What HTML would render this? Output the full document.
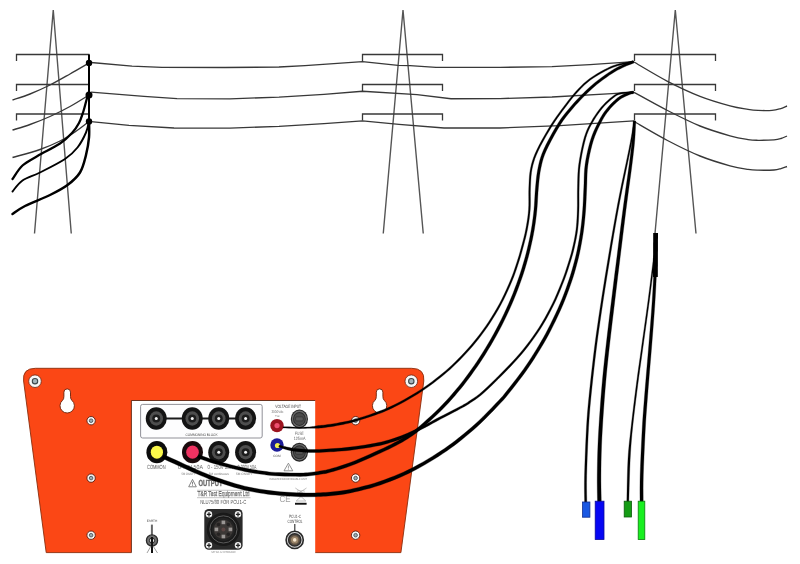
<!DOCTYPE html>
<html lang="en">
<head>
<meta charset="utf-8">
<title>NLU75/80 connection diagram</title>
<style>
html,body{margin:0;padding:0;background:#fff;}
body{width:800px;height:564px;overflow:hidden;}
svg{display:block;}
svg text{font-family:"Liberation Sans",sans-serif;text-rendering:geometricPrecision;}
</style>
</head>
<body>
<svg width="800" height="564" viewBox="0 0 800 564">
<rect x="0" y="0" width="800" height="564" fill="#ffffff"/>
<g fill="none" stroke="#383838" stroke-width="1.3" stroke-linejoin="miter">
<path stroke="#555" stroke-width="1.4" shape-rendering="auto" d="M34.50 233.50 L53.25 10.00 L71.25 233.50" />
<path d="M16.50 61.00 L16.50 54.50 L89.50 54.50" />
<path d="M16.50 91.00 L16.50 84.50 L89.50 84.50" />
<path d="M16.50 120.50 L16.50 114.00 L89.50 114.00" />
<path stroke="#555" stroke-width="1.4" shape-rendering="auto" d="M383.25 233.50 L403.00 10.00 L423.25 233.50" />
<path d="M362.50 61.00 L362.50 54.50 L442.50 54.50 L442.50 61.00" />
<path d="M362.50 91.00 L362.50 84.50 L442.50 84.50 L442.50 91.00" />
<path d="M362.50 120.50 L362.50 114.00 L442.50 114.00 L442.50 120.50" />
<path stroke="#555" stroke-width="1.4" shape-rendering="auto" d="M655.00 233.50 L675.30 10.00 L696.00 233.50" />
<path d="M634.50 61.00 L634.50 54.50 L715.50 54.50 L715.50 61.00" />
<path d="M634.50 91.00 L634.50 84.50 L715.50 84.50 L715.50 91.00" />
<path d="M634.50 120.50 L634.50 114.00 L715.50 114.00 L715.50 120.50" />
</g>
<g fill="none" stroke="#383838" stroke-width="1.35">
<path d="M91.00 62.50 L132.00 66.10 L162.00 67.30 L225.00 67.50 L279.00 67.00 L305.00 65.60 L362.50 61.60 L398.00 65.40 L410.00 65.70 L436.00 67.30 L500.00 67.40 L552.00 66.60 L590.00 64.60 L634.00 61.60" />
<path d="M91.00 92.20 L144.00 96.30 L177.00 98.70 L230.00 98.90 L279.00 97.10 L324.00 94.30 L362.50 91.30 L417.00 94.60 L451.00 98.70 L500.00 98.60 L552.00 97.00 L612.00 93.70 L634.00 92.20" />
<path d="M91.00 121.60 L129.00 125.40 L174.00 128.00 L230.00 128.10 L279.00 126.30 L324.00 123.60 L362.50 120.90 L399.00 124.40 L444.00 128.00 L500.00 128.00 L560.00 125.60 L634.00 120.80" />
<path d="M634.00 62.00 C639.58 65.22 656.50 75.58 667.50 81.30 C678.50 87.02 689.58 92.22 700.00 96.30 C710.42 100.38 722.00 103.63 730.00 105.80 C738.00 107.97 743.33 108.53 748.00 109.30 C752.67 110.07 754.00 110.22 758.00 110.40 C762.00 110.58 768.33 110.67 772.00 110.40 C775.67 110.13 777.50 109.53 780.00 108.80 C782.50 108.07 785.83 106.47 787.00 106.00" />
<path d="M634.00 92.30 C639.58 95.33 656.50 104.88 667.50 110.50 C678.50 116.12 689.58 121.78 700.00 126.00 C710.42 130.22 722.00 133.53 730.00 135.80 C738.00 138.07 743.33 138.85 748.00 139.60 C752.67 140.35 753.67 140.27 758.00 140.30 C762.33 140.33 770.17 140.10 774.00 139.80 C777.83 139.50 778.83 139.13 781.00 138.50 C783.17 137.87 786.00 136.42 787.00 136.00" />
<path d="M634.00 121.50 C639.58 124.67 656.50 134.75 667.50 140.50 C678.50 146.25 689.58 151.78 700.00 156.00 C710.42 160.22 722.00 163.57 730.00 165.80 C738.00 168.03 743.33 168.67 748.00 169.40 C752.67 170.13 753.67 170.10 758.00 170.20 C762.33 170.30 770.17 170.27 774.00 170.00 C777.83 169.73 778.83 169.18 781.00 168.60 C783.17 168.02 786.00 166.85 787.00 166.50" />
<path d="M89.00 63.00 C85.83 64.83 76.50 70.33 70.00 74.00 C63.50 77.67 56.67 81.67 50.00 85.00 C43.33 88.33 36.25 91.50 30.00 94.00 C23.75 96.50 15.42 99.00 12.50 100.00" />
<path d="M89.00 95.00 C85.83 96.92 76.50 102.92 70.00 106.50 C63.50 110.08 56.67 113.50 50.00 116.50 C43.33 119.50 36.25 122.25 30.00 124.50 C23.75 126.75 15.42 129.08 12.50 130.00" />
<path d="M89.00 121.50 C86.67 123.25 79.83 128.75 75.00 132.00 C70.17 135.25 65.83 138.08 60.00 141.00 C54.17 143.92 47.92 146.75 40.00 149.50 C32.08 152.25 17.08 156.17 12.50 157.50" />
</g>
<g fill="none" stroke="#000" stroke-linecap="round" stroke-linejoin="round">
<path stroke-width="2" stroke-linecap="butt" d="M89 54.5 L89 122" />
<path stroke-width="2.3" d="M89.00 92.00 C88.58 93.33 87.47 96.67 86.50 100.00 C85.53 103.33 84.45 108.17 83.20 112.00 C81.95 115.83 80.87 119.50 79.00 123.00 C77.13 126.50 75.17 129.58 72.00 133.00 C68.83 136.42 65.75 139.67 60.00 143.50 C54.25 147.33 43.75 152.33 37.50 156.00 C31.25 159.67 26.67 161.67 22.50 165.50 C18.33 169.33 14.17 176.75 12.50 179.00" />
<path stroke-width="1.9" d="M89.00 121.00 C88.50 122.92 87.92 128.08 86.00 132.50 C84.08 136.92 81.00 143.08 77.50 147.50 C74.00 151.92 71.25 154.83 65.00 159.00 C58.75 163.17 47.08 168.92 40.00 172.50 C32.92 176.08 27.08 177.33 22.50 180.50 C17.92 183.67 14.17 189.67 12.50 191.50" />
<path stroke-width="2.5" d="M89.00 121.00 C89.00 123.75 89.50 131.83 89.00 137.50 C88.50 143.17 87.50 149.17 86.00 155.00 C84.50 160.83 83.08 167.50 80.00 172.50 C76.92 177.50 72.50 181.25 67.50 185.00 C62.50 188.75 57.08 191.50 50.00 195.00 C42.92 198.50 31.25 202.83 25.00 206.00 C18.75 209.17 14.58 212.67 12.50 214.00" />
</g>
<g fill="#000"><circle cx="89" cy="63" r="3.2"/><circle cx="89" cy="95" r="3.5"/><circle cx="89" cy="121.5" r="3.2"/></g>
<!-- equipment: orange back plate -->
<g id="plate" filter="url(#soft)">
<path d="M46.2 552.6 L23.6 381 Q22.2 368.3 35.5 368.3 L411.5 368.3 Q425 368.3 423.8 381 L400.9 552.6 Z" fill="#fb4715" stroke="#8a2c0c" stroke-width="0.9"/>
<!-- corner screws -->
<g>
<circle cx="35" cy="381.2" r="6.3" fill="#f7f7f7" stroke="#6a2410" stroke-width="0.8"/>
<circle cx="35" cy="381.2" r="2.7" fill="#a4b4ba" stroke="#3c484c" stroke-width="1.1"/>
<circle cx="411.3" cy="381.2" r="6.3" fill="#f7f7f7" stroke="#6a2410" stroke-width="0.8"/>
<circle cx="411.3" cy="381.2" r="2.7" fill="#a4b4ba" stroke="#3c484c" stroke-width="1.1"/>
</g>
<!-- keyholes -->
<g fill="#fff" stroke="#6a2008" stroke-width="0.9">
<path d="M63.90 396.50 L63.90 392.20 A3.30 3.30 0 0 1 70.50 392.20 L70.50 396.50 Q70.50 399.08 71.83 400.28 A7.20 7.20 0 1 1 62.57 400.28 Q63.90 399.08 63.90 396.50 Z"/>
<path d="M376.30 396.50 L376.30 392.20 A3.30 3.30 0 0 1 382.90 392.20 L382.90 396.50 Q382.90 399.08 384.23 400.28 A7.20 7.20 0 1 1 374.97 400.28 Q376.30 399.08 376.30 396.50 Z"/>
</g>
<!-- small screws -->
<g fill="#f6f6f6" stroke="#5a1c0c" stroke-width="0.9">
<circle cx="91.1" cy="420.7" r="4.2"/>
<circle cx="91.1" cy="478.1" r="4.2"/>
<circle cx="91.1" cy="535.2" r="4.2"/>
<circle cx="355.6" cy="420.7" r="4.2"/>
<circle cx="355.6" cy="478.1" r="4.2"/>
<circle cx="355.6" cy="535.2" r="4.2"/>
</g>
<g fill="#9aaab2" stroke="#3c484c" stroke-width="0.8">
<circle cx="91.1" cy="420.7" r="1.8"/>
<circle cx="91.1" cy="478.1" r="1.8"/>
<circle cx="91.1" cy="535.2" r="1.8"/>
<circle cx="355.6" cy="420.7" r="1.8"/>
<circle cx="355.6" cy="478.1" r="1.8"/>
<circle cx="355.6" cy="535.2" r="1.8"/>
</g>
</g>
<!-- white front panel -->
<defs><filter id="soft" x="-5%" y="-5%" width="110%" height="110%" color-interpolation-filters="sRGB"><feGaussianBlur stdDeviation="0.35"/></filter></defs>
<g id="panel" filter="url(#soft)">
<rect x="131.5" y="400.6" width="183.7" height="153.4" fill="#ffffff"/>
<path d="M131.4 552.6 L131.4 400.5 L315.2 400.5" fill="none" stroke="#5c2814" stroke-width="0.9"/>
<!-- commoning block -->
<rect x="140.6" y="404.4" width="121.6" height="33.6" rx="2" fill="#fdfdfe" stroke="#84848c" stroke-width="0.9"/>
<path d="M156 418.5 L246 418.5" stroke="#1a1a1a" stroke-width="1.8"/>
<g id="sockets">
<g transform="translate(156.25 418.5)"><ellipse rx="10.5" ry="11.3" fill="#141414"/><ellipse rx="6.8" ry="7.2" fill="#4e4e4e"/><circle r="4" fill="#1c1c1c"/><circle r="1.5" fill="#f4f4f4"/></g>
<g transform="translate(192.25 418.5)"><ellipse rx="10.5" ry="11.3" fill="#141414"/><ellipse rx="6.8" ry="7.2" fill="#4e4e4e"/><circle r="4" fill="#1c1c1c"/><circle r="1.5" fill="#f4f4f4"/></g>
<g transform="translate(218.75 418.5)"><ellipse rx="10.5" ry="11.3" fill="#141414"/><ellipse rx="6.8" ry="7.2" fill="#4e4e4e"/><circle r="4" fill="#1c1c1c"/><circle r="1.5" fill="#f4f4f4"/></g>
<g transform="translate(245.6 418.5)"><ellipse rx="10.5" ry="11.3" fill="#141414"/><ellipse rx="6.8" ry="7.2" fill="#4e4e4e"/><circle r="4" fill="#1c1c1c"/><circle r="1.5" fill="#f4f4f4"/></g>
<g transform="translate(218.75 452.2)"><ellipse rx="10.5" ry="11.3" fill="#141414"/><ellipse rx="6.8" ry="7.2" fill="#4e4e4e"/><circle r="4" fill="#1c1c1c"/><circle r="1.5" fill="#f4f4f4"/></g>
<g transform="translate(245.6 452.2)"><ellipse rx="10.5" ry="11.3" fill="#141414"/><ellipse rx="6.8" ry="7.2" fill="#4e4e4e"/><circle r="4" fill="#1c1c1c"/><circle r="1.5" fill="#f4f4f4"/></g>
<g transform="translate(156.9 452.2)"><ellipse rx="10.5" ry="11.1" fill="#0c0c0c"/><ellipse rx="6.1" ry="6.5" fill="#fbf84a"/></g>
<g transform="translate(192.5 452.2)"><ellipse rx="10.5" ry="11.1" fill="#1a0a0c"/><ellipse rx="6.3" ry="6.6" fill="#f23262"/></g>
</g>
<text x="201.5" y="435.6" font-size="3.5" text-anchor="middle" fill="#444" textLength="32" lengthAdjust="spacingAndGlyphs">COMMONING BLOCK</text>
<text x="156.3" y="469.4" font-size="6" text-anchor="middle" fill="#555" textLength="18.6" lengthAdjust="spacingAndGlyphs">COMMON</text>
<text x="190.5" y="469.4" font-size="6" text-anchor="middle" fill="#666" textLength="25" lengthAdjust="spacingAndGlyphs">0-75V 50A</text>
<text x="220" y="469.4" font-size="6" text-anchor="middle" fill="#666" textLength="25" lengthAdjust="spacingAndGlyphs">0 - 150V 25A</text>
<text x="247" y="469.4" font-size="6" text-anchor="middle" fill="#666" textLength="19" lengthAdjust="spacingAndGlyphs">0-300V 50A</text>
<text x="188.5" y="474.5" font-size="3.4" text-anchor="middle" fill="#777" textLength="14" lengthAdjust="spacingAndGlyphs">5M ON/OFF</text>
<text x="218.8" y="474.5" font-size="3.4" text-anchor="middle" fill="#777" textLength="20" lengthAdjust="spacingAndGlyphs">5M continuous</text>
<text x="244.5" y="474.5" font-size="3.4" text-anchor="middle" fill="#777" textLength="17" lengthAdjust="spacingAndGlyphs">5M ON/OFF</text>
<!-- output heading -->
<path d="M192.5 479.4 L188.7 486.8 L196.3 486.8 Z" fill="none" stroke="#777" stroke-width="0.9"/>
<path d="M192.5 481.8 L192.5 484.6 M192.5 485.3 L192.5 486" stroke="#666" stroke-width="0.8"/>
<text x="210.5" y="486.4" font-size="8.8" font-weight="bold" text-anchor="middle" fill="#6c6c6c" stroke="#6c6c6c" stroke-width="0.35" textLength="24" lengthAdjust="spacingAndGlyphs">OUTPUT</text>
<text x="223.5" y="496.4" font-size="7" text-anchor="middle" fill="#e8e8e8" stroke="#6a6a6a" stroke-width="0.4" textLength="52" lengthAdjust="spacingAndGlyphs">T&amp;R Test Equipment Ltd</text>
<path d="M197 490.3 L250.5 490.3 M197 497.7 L250.5 497.7" stroke="#888" stroke-width="0.5"/>
<text x="223.2" y="503.8" font-size="6" text-anchor="middle" fill="#555" textLength="46" lengthAdjust="spacingAndGlyphs">NLU75/80 FOR PCU1-C</text>
<!-- earth -->
<text x="152" y="522" font-size="3.2" text-anchor="middle" fill="#444">EARTH</text>
<path d="M151.9 524.6 L151.9 535" stroke="#666" stroke-width="2"/>
<circle cx="152" cy="540.5" r="5.6" fill="#707070" stroke="#2a2a2a" stroke-width="1.3"/>
<circle cx="152" cy="540.5" r="2.6" fill="#e8e8e8" stroke="#222" stroke-width="1"/>
<path d="M152 537 L152 553" stroke="#111" stroke-width="2"/>
<path d="M151 546 L147 553 M153 546 L157.5 553" stroke="#777" stroke-width="0.7"/>
<!-- multi-pin connector -->
<g>
<rect x="204.3" y="509" width="38.3" height="40.8" rx="4.5" fill="#2a2a2a"/>
<circle cx="223.4" cy="529.4" r="16.6" fill="#191919"/>
<circle cx="223.4" cy="529.4" r="13.6" fill="none" stroke="#5a5a5a" stroke-width="1"/>
<circle cx="223.4" cy="529.4" r="11.6" fill="#232323"/>
<circle cx="223.4" cy="529.4" r="9.6" fill="#3c3836"/>
<g fill="#242222"><circle cx="218.5" cy="524.5" r="1.8"/><circle cx="228.3" cy="524.5" r="1.8"/><circle cx="218.5" cy="534.3" r="1.8"/><circle cx="228.3" cy="534.3" r="1.8"/></g>
<g fill="#9a9694"><rect x="221.6" y="520.6" width="3.6" height="3.6"/><rect x="221.6" y="534.7" width="3.6" height="3.6"/><rect x="214.6" y="527.6" width="3.6" height="3.6"/><rect x="228.6" y="527.6" width="3.6" height="3.6"/></g>
<circle cx="223.4" cy="529.4" r="2" fill="#5c4644"/>
<g fill="#f0f0f0">
<circle cx="209" cy="514.3" r="3.2"/><circle cx="238" cy="514.3" r="3.2"/><circle cx="209" cy="545.3" r="3.2"/><circle cx="238" cy="545.3" r="3.2"/>
</g>
<g stroke="#222" stroke-width="1.3" fill="none"><path d="M206.9 514.3 h4.2 M209 512.2 v4.2 M235.9 514.3 h4.2 M238 512.2 v4.2 M206.9 545.3 h4.2 M209 543.2 v4.2 M235.9 545.3 h4.2 M238 543.2 v4.2"/></g>
</g>
<text x="223.6" y="553.2" font-size="2.8" text-anchor="middle" fill="#777" textLength="24.5" lengthAdjust="spacingAndGlyphs">SKT A/1-12 INTERLOCK</text>
<!-- voltage input -->
<text x="288.2" y="407.8" font-size="4.6" text-anchor="middle" fill="#444" textLength="25.8" lengthAdjust="spacingAndGlyphs">VOLTAGE INPUT</text>
<text x="277.5" y="412.8" font-size="3.8" text-anchor="middle" fill="#777" textLength="12.2" lengthAdjust="spacingAndGlyphs">3000Vdc</text>
<text x="277.3" y="417.2" font-size="3.4" text-anchor="middle" fill="#777" textLength="5" lengthAdjust="spacingAndGlyphs">+ve</text>
<circle cx="277" cy="425.6" r="6.7" fill="#9c1420"/>
<circle cx="277" cy="425.6" r="2.6" fill="#ee5070"/>
<g transform="translate(299.4 418.9)"><ellipse rx="8.6" ry="9.5" fill="#262626"/><ellipse rx="7.5" ry="8.3" fill="#6c6c6c"/><ellipse rx="6.4" ry="7" fill="#2c2c2c"/><ellipse rx="5.5" ry="6" fill="#4a4a4a"/><rect x="-3.8" y="-2" width="7.6" height="4" rx="1" fill="#585858" stroke="#2c2c2c" stroke-width="0.6"/></g>
<text x="299.4" y="434.8" font-size="4.6" text-anchor="middle" fill="#666" textLength="8.8" lengthAdjust="spacingAndGlyphs">FUSE</text>
<text x="299.6" y="440.1" font-size="4.6" text-anchor="middle" fill="#666" textLength="11.8" lengthAdjust="spacingAndGlyphs">125mA</text>
<circle cx="277" cy="445" r="6.7" fill="#1c1c98"/>
<circle cx="277.5" cy="445.5" r="2.6" fill="#f2ee50"/>
<text x="277" y="457.3" font-size="3.2" text-anchor="middle" fill="#555">COM</text>
<g transform="translate(299.4 452.2)"><ellipse rx="8.6" ry="9.5" fill="#262626"/><ellipse rx="7.5" ry="8.3" fill="#6c6c6c"/><ellipse rx="6.4" ry="7" fill="#2c2c2c"/><ellipse rx="5.5" ry="6" fill="#4a4a4a"/><rect x="-3.8" y="-2" width="7.6" height="4" rx="1" fill="#585858" stroke="#2c2c2c" stroke-width="0.6"/></g>
<!-- warning -->
<path d="M288.4 463.2 L284 470.8 L292.8 470.8 Z" fill="none" stroke="#777" stroke-width="0.8"/>
<path d="M288.4 465.6 L288.4 468.6 M288.4 469.3 L288.4 470" stroke="#777" stroke-width="0.7"/>
<text x="288.2" y="479.6" font-size="2.9" text-anchor="middle" fill="#777" textLength="37.5" lengthAdjust="spacingAndGlyphs">ISOLATED RECOVERABLE UNIT</text>
<!-- CE + WEEE -->
<text x="285" y="501.6" font-size="9" text-anchor="middle" fill="#a0a0a0" textLength="11" lengthAdjust="spacingAndGlyphs">CE</text>
<path d="M295.3 488 L306.5 495.5 M306.5 488 L295.3 495.5" stroke="#999" stroke-width="0.6"/>
<path d="M297.6 490.6 L304.2 490.6 L303.6 495 L298.2 495 Z" fill="none" stroke="#aaa" stroke-width="0.5"/>
<path d="M296.2 501 L301 496.5 L305.8 501 Z" fill="none" stroke="#999" stroke-width="0.6"/>
<rect x="295" y="502.8" width="11.6" height="1.9" fill="#111"/>
<!-- PCU1-C control -->
<text x="295" y="517.8" font-size="4.7" text-anchor="middle" fill="#4a4a4a" textLength="12.2" lengthAdjust="spacingAndGlyphs">PCU1-C</text>
<text x="295" y="522.9" font-size="4.7" text-anchor="middle" fill="#4a4a4a" textLength="15.2" lengthAdjust="spacingAndGlyphs">CONTROL</text>
<path d="M294.8 524 L294.8 531" stroke="#2a2a2a" stroke-width="1.1"/>
<circle cx="294.7" cy="539.9" r="8.6" fill="#d8d8d8" stroke="#2a2a2a" stroke-width="1.6"/>
<circle cx="294.7" cy="539.9" r="6.1" fill="#5c5044" stroke="#2c2c2c" stroke-width="1.5"/>
<circle cx="294.7" cy="539.9" r="3.7" fill="#9a8468"/>
<circle cx="294.7" cy="539.9" r="1.8" fill="#f4e4cc"/>
</g>


<g fill="#000" stroke="#000" stroke-width="0.3" stroke-linejoin="round">
<path d="M282.98 427.95 L285.41 428.04 L288.91 428.16 L292.92 428.30 L296.86 428.42 L300.20 428.48 L302.90 428.46 L305.33 428.39 L307.52 428.30 L309.50 428.21 L311.30 428.16 L312.80 428.17 L314.00 428.21 L315.05 428.27 L316.13 428.29 L317.38 428.27 L318.74 428.19 L320.11 428.09 L321.61 427.95 L323.35 427.75 L325.44 427.47 L327.98 427.10 L330.91 426.65 L334.06 426.13 L337.27 425.57 L340.37 424.98 L343.20 424.41 L345.89 423.86 L348.66 423.23 L351.76 422.44 L355.41 421.41 L359.84 420.06 L364.90 418.46 L370.24 416.71 L375.50 414.89 L380.32 413.10 L384.60 411.38 L388.58 409.67 L392.41 407.91 L396.23 406.04 L400.21 404.00 L404.39 401.75 L408.68 399.35 L412.99 396.82 L417.25 394.22 L421.38 391.58 L425.39 388.87 L429.35 386.07 L433.21 383.23 L436.94 380.37 L440.52 377.55 L443.88 374.80 L447.05 372.10 L450.11 369.39 L453.16 366.57 L456.27 363.57 L459.49 360.39 L462.74 357.07 L465.99 353.62 L469.21 350.08 L472.36 346.45 L475.45 342.75 L478.50 338.96 L481.50 335.07 L484.45 331.07 L487.35 326.95 L490.21 322.68 L493.05 318.29 L495.82 313.78 L498.50 309.20 L501.07 304.56 L503.55 299.76 L505.96 294.78 L508.26 289.80 L510.38 284.98 L512.28 280.51 L513.92 276.41 L515.33 272.55 L516.57 268.92 L517.69 265.47 L518.76 262.17 L519.73 259.15 L520.57 256.42 L521.34 253.80 L522.10 251.07 L522.92 248.05 L523.82 244.69 L524.77 241.11 L525.73 237.38 L526.63 233.55 L527.43 229.70 L528.15 225.83 L528.81 221.90 L529.39 217.89 L529.88 213.82 L530.26 209.67 L530.45 205.38 L530.48 200.98 L530.44 196.56 L530.42 192.22 L530.51 188.04 L530.68 184.01 L530.86 180.08 L531.12 176.25 L531.52 172.50 L532.15 168.80 L532.94 165.26 L533.86 161.93 L534.97 158.58 L536.37 155.01 L538.15 151.01 L540.45 146.36 L543.22 141.19 L546.24 135.84 L549.28 130.66 L552.13 125.99 L554.75 121.89 L557.31 118.15 L559.83 114.65 L562.32 111.29 L564.82 107.96 L567.28 104.68 L569.69 101.51 L572.09 98.45 L574.52 95.51 L577.03 92.67 L579.57 89.94 L582.11 87.33 L584.71 84.82 L587.46 82.41 L590.42 80.08 L593.76 77.76 L597.44 75.45 L601.23 73.26 L604.87 71.27 L608.13 69.59 L610.89 68.29 L613.32 67.30 L615.58 66.52 L617.84 65.84 L620.26 65.17 L623.06 64.50 L626.15 63.88 L629.17 63.35 L631.79 62.91 L633.64 62.59 L633.36 61.01 L631.52 61.33 L628.90 61.77 L625.85 62.30 L622.72 62.92 L619.86 63.61 L617.39 64.29 L615.08 64.98 L612.74 65.78 L610.24 66.80 L607.41 68.13 L604.11 69.83 L600.43 71.83 L596.60 74.05 L592.86 76.39 L589.44 78.76 L586.41 81.15 L583.60 83.61 L580.94 86.15 L578.37 88.80 L575.81 91.55 L573.26 94.43 L570.80 97.41 L568.37 100.49 L565.95 103.67 L563.48 106.96 L560.98 110.29 L558.47 113.66 L555.93 117.19 L553.35 120.97 L550.69 125.09 L547.83 129.79 L544.78 135.00 L541.74 140.37 L538.94 145.58 L536.61 150.29 L534.80 154.35 L533.37 158.00 L532.22 161.43 L531.28 164.85 L530.47 168.46 L529.82 172.26 L529.40 176.10 L529.14 179.98 L528.96 183.93 L528.79 187.98 L528.68 192.21 L528.70 196.58 L528.74 200.99 L528.71 205.34 L528.52 209.55 L528.15 213.64 L527.66 217.66 L527.08 221.62 L526.42 225.52 L525.71 229.36 L524.91 233.17 L524.01 236.95 L523.06 240.66 L522.11 244.23 L521.20 247.59 L520.39 250.60 L519.63 253.31 L518.87 255.91 L518.03 258.61 L517.06 261.63 L515.99 264.92 L514.87 268.35 L513.64 271.95 L512.24 275.76 L510.62 279.83 L508.73 284.27 L506.61 289.05 L504.32 294.00 L501.92 298.94 L499.45 303.70 L496.90 308.29 L494.24 312.83 L491.48 317.30 L488.66 321.66 L485.81 325.89 L482.93 329.98 L480.00 333.94 L477.02 337.79 L473.99 341.54 L470.92 345.21 L467.78 348.81 L464.59 352.32 L461.35 355.73 L458.12 359.03 L454.93 362.19 L451.83 365.15 L448.80 367.94 L445.77 370.63 L442.62 373.29 L439.28 376.01 L435.73 378.81 L432.02 381.65 L428.19 384.47 L424.26 387.23 L420.28 389.90 L416.19 392.51 L411.95 395.08 L407.67 397.58 L403.41 399.95 L399.25 402.16 L395.30 404.18 L391.51 406.02 L387.73 407.74 L383.80 409.42 L379.56 411.10 L374.78 412.87 L369.55 414.67 L364.24 416.40 L359.20 417.98 L354.79 419.29 L351.19 420.29 L348.15 421.02 L345.42 421.59 L342.75 422.10 L339.93 422.62 L336.85 423.17 L333.66 423.67 L330.53 424.13 L327.61 424.54 L325.08 424.89 L323.03 425.16 L321.34 425.34 L319.87 425.48 L318.52 425.61 L317.16 425.77 L315.92 425.98 L314.88 426.19 L313.87 426.40 L312.71 426.60 L311.22 426.76 L309.44 426.90 L307.46 427.02 L305.29 427.11 L302.88 427.17 L300.20 427.18 L296.89 427.13 L292.96 427.01 L288.96 426.87 L285.46 426.74 L283.02 426.65 Z" />
<path d="M278.70 446.95 L279.67 447.31 L281.03 447.81 L282.64 448.40 L284.37 448.98 L286.06 449.49 L287.58 449.91 L289.04 450.31 L290.64 450.68 L292.54 451.02 L294.89 451.34 L297.83 451.65 L301.24 451.95 L304.94 452.21 L308.72 452.41 L312.38 452.52 L315.87 452.52 L319.33 452.44 L322.80 452.28 L326.34 452.09 L330.03 451.86 L333.82 451.63 L337.69 451.37 L341.70 451.07 L345.88 450.69 L350.30 450.20 L355.17 449.57 L360.46 448.82 L365.82 448.00 L370.91 447.17 L375.36 446.37 L379.02 445.64 L382.12 444.93 L384.90 444.21 L387.59 443.44 L390.41 442.60 L393.36 441.70 L396.27 440.75 L399.20 439.74 L402.19 438.62 L405.28 437.36 L408.44 435.97 L411.66 434.45 L414.94 432.82 L418.30 431.11 L421.78 429.32 L425.40 427.41 L429.14 425.39 L432.96 423.30 L436.83 421.19 L440.71 419.10 L444.78 416.95 L449.08 414.71 L453.34 412.49 L457.28 410.42 L460.64 408.62 L463.18 407.22 L465.09 406.16 L466.73 405.21 L468.41 404.15 L470.45 402.78 L472.77 401.23 L475.18 399.63 L477.80 397.77 L480.77 395.48 L484.18 392.56 L488.29 388.77 L493.00 384.26 L497.96 379.37 L502.82 374.48 L507.22 369.96 L511.10 365.90 L514.71 362.04 L518.13 358.26 L521.45 354.42 L524.78 350.39 L528.12 346.15 L531.42 341.81 L534.65 337.36 L537.78 332.83 L540.79 328.22 L543.68 323.49 L546.48 318.64 L549.17 313.74 L551.72 308.84 L554.13 304.01 L556.41 299.17 L558.55 294.29 L560.56 289.48 L562.41 284.85 L564.10 280.52 L565.61 276.51 L566.93 272.74 L568.12 269.18 L569.20 265.79 L570.22 262.54 L571.16 259.54 L571.98 256.82 L572.73 254.18 L573.45 251.44 L574.18 248.42 L574.94 245.08 L575.71 241.54 L576.45 237.86 L577.11 234.07 L577.67 230.23 L578.09 226.36 L578.41 222.41 L578.65 218.40 L578.84 214.30 L579.00 210.12 L579.09 205.81 L579.09 201.41 L579.07 196.94 L579.07 192.42 L579.15 187.89 L579.25 183.36 L579.35 178.83 L579.51 174.25 L579.81 169.56 L580.34 164.70 L581.14 159.42 L582.16 153.76 L583.32 148.08 L584.57 142.72 L585.82 138.05 L587.05 134.21 L588.32 130.96 L589.66 128.08 L591.10 125.32 L592.67 122.46 L594.41 119.48 L596.27 116.54 L598.24 113.68 L600.25 110.95 L602.28 108.41 L604.39 106.03 L606.60 103.76 L608.82 101.66 L610.96 99.79 L612.90 98.20 L614.50 96.95 L615.80 96.03 L617.01 95.34 L618.37 94.79 L620.13 94.28 L622.61 93.85 L625.66 93.55 L628.82 93.35 L631.61 93.22 L633.55 93.10 L633.45 91.50 L631.52 91.62 L628.73 91.75 L625.53 91.95 L622.40 92.25 L619.79 92.70 L617.85 93.25 L616.30 93.88 L614.92 94.66 L613.52 95.65 L611.88 96.92 L609.90 98.54 L607.72 100.45 L605.45 102.59 L603.18 104.91 L601.02 107.35 L598.94 109.94 L596.89 112.71 L594.89 115.63 L592.99 118.62 L591.23 121.64 L589.63 124.53 L588.16 127.34 L586.78 130.31 L585.47 133.65 L584.20 137.57 L582.93 142.31 L581.67 147.72 L580.49 153.44 L579.47 159.14 L578.66 164.48 L578.12 169.41 L577.80 174.16 L577.64 178.78 L577.54 183.32 L577.43 187.85 L577.35 192.41 L577.34 196.94 L577.36 201.41 L577.36 205.79 L577.26 210.06 L577.11 214.23 L576.92 218.31 L576.67 222.29 L576.35 226.19 L575.93 230.01 L575.38 233.79 L574.72 237.53 L573.99 241.18 L573.22 244.70 L572.46 248.02 L571.74 251.01 L571.02 253.71 L570.28 256.31 L569.46 259.01 L568.52 262.00 L567.50 265.25 L566.42 268.62 L565.24 272.16 L563.92 275.89 L562.42 279.88 L560.73 284.19 L558.88 288.79 L556.88 293.57 L554.75 298.42 L552.49 303.21 L550.09 308.00 L547.54 312.87 L544.87 317.73 L542.09 322.54 L539.21 327.22 L536.23 331.78 L533.12 336.28 L529.91 340.68 L526.63 344.99 L523.30 349.19 L519.99 353.19 L516.69 356.99 L513.29 360.74 L509.70 364.56 L505.82 368.60 L501.42 373.10 L496.57 377.97 L491.62 382.84 L486.93 387.32 L482.86 391.06 L479.50 393.92 L476.60 396.15 L474.03 397.95 L471.64 399.53 L469.31 401.08 L467.29 402.43 L465.66 403.45 L464.08 404.36 L462.18 405.40 L459.64 406.76 L456.29 408.53 L452.34 410.55 L448.06 412.71 L443.73 414.91 L439.61 417.02 L435.70 419.08 L431.80 421.15 L427.96 423.20 L424.22 425.17 L420.60 427.00 L417.11 428.72 L413.73 430.34 L410.44 431.86 L407.25 433.28 L404.12 434.60 L401.10 435.79 L398.17 436.87 L395.31 437.86 L392.44 438.79 L389.53 439.68 L386.74 440.50 L384.11 441.24 L381.40 441.93 L378.38 442.61 L374.78 443.33 L370.38 444.11 L365.34 444.94 L360.01 445.75 L354.75 446.49 L349.92 447.12 L345.57 447.61 L341.44 448.00 L337.47 448.31 L333.62 448.57 L329.83 448.82 L326.16 449.05 L322.64 449.26 L319.22 449.41 L315.83 449.51 L312.42 449.52 L308.84 449.43 L305.12 449.24 L301.47 449.00 L298.09 448.73 L295.21 448.46 L292.95 448.20 L291.16 447.92 L289.65 447.62 L288.23 447.31 L286.72 446.97 L285.05 446.59 L283.33 446.15 L281.70 445.71 L280.30 445.32 L279.30 445.05 Z" />
<path d="M197.43 457.90 L199.60 458.68 L202.60 459.77 L206.23 461.05 L210.25 462.42 L214.46 463.73 L219.17 465.08 L224.51 466.53 L230.00 467.97 L235.14 469.29 L239.45 470.35 L242.77 471.12 L245.43 471.67 L247.65 472.07 L249.68 472.41 L251.77 472.76 L253.89 473.13 L255.84 473.45 L257.76 473.75 L259.75 474.03 L261.93 474.32 L264.14 474.62 L266.33 474.93 L268.75 475.23 L271.57 475.50 L275.02 475.73 L279.46 475.94 L284.78 476.13 L290.37 476.28 L295.64 476.37 L300.01 476.39 L303.30 476.32 L305.91 476.18 L308.08 475.97 L310.05 475.74 L312.09 475.51 L314.25 475.26 L316.34 474.98 L318.34 474.68 L320.27 474.37 L322.09 474.06 L323.59 473.82 L324.81 473.64 L326.12 473.40 L327.81 473.00 L330.21 472.35 L333.44 471.43 L337.30 470.31 L341.62 469.00 L346.19 467.51 L350.83 465.85 L355.68 463.94 L360.86 461.79 L366.14 459.51 L371.28 457.23 L376.06 455.09 L380.48 453.08 L384.71 451.11 L388.73 449.18 L392.52 447.31 L396.05 445.50 L399.28 443.78 L402.22 442.14 L404.95 440.55 L407.55 438.94 L410.11 437.28 L412.45 435.70 L414.53 434.24 L416.61 432.66 L418.93 430.79 L421.75 428.39 L425.27 425.32 L429.32 421.71 L433.62 417.79 L437.87 413.80 L441.78 409.98 L445.35 406.31 L448.77 402.65 L452.04 399.01 L455.17 395.41 L458.18 391.87 L461.02 388.46 L463.67 385.15 L466.22 381.86 L468.77 378.48 L471.39 374.89 L474.09 371.11 L476.83 367.21 L479.58 363.17 L482.35 358.98 L485.12 354.63 L487.92 350.09 L490.76 345.38 L493.60 340.52 L496.39 335.58 L499.10 330.60 L501.74 325.52 L504.34 320.31 L506.87 315.07 L509.30 309.87 L511.57 304.80 L513.70 299.79 L515.72 294.81 L517.61 289.93 L519.35 285.26 L520.95 280.87 L522.37 276.80 L523.62 272.98 L524.74 269.38 L525.76 265.96 L526.73 262.66 L527.61 259.60 L528.39 256.80 L529.09 254.09 L529.78 251.30 L530.50 248.23 L531.27 244.87 L532.06 241.33 L532.83 237.64 L533.57 233.85 L534.26 230.01 L534.88 226.12 L535.46 222.15 L536.00 218.10 L536.49 213.97 L536.93 209.78 L537.28 205.45 L537.55 201.00 L537.79 196.53 L538.04 192.14 L538.38 187.92 L538.76 183.84 L539.15 179.87 L539.59 176.00 L540.14 172.22 L540.83 168.50 L541.58 165.00 L542.35 161.75 L543.28 158.51 L544.50 155.01 L546.18 150.98 L548.48 146.13 L551.31 140.63 L554.41 134.91 L557.54 129.44 L560.44 124.66 L563.09 120.67 L565.68 117.16 L568.22 113.98 L570.75 110.97 L573.26 108.00 L575.76 105.12 L578.22 102.41 L580.66 99.84 L583.07 97.37 L585.45 94.98 L587.71 92.74 L589.85 90.68 L591.99 88.69 L594.26 86.69 L596.79 84.59 L599.72 82.29 L602.96 79.85 L606.31 77.41 L609.57 75.12 L612.55 73.15 L615.22 71.51 L617.72 70.11 L620.09 68.89 L622.36 67.79 L624.54 66.76 L626.72 65.79 L628.92 64.90 L630.96 64.13 L632.70 63.49 L633.96 63.02 L633.04 60.58 L631.80 61.05 L630.05 61.68 L627.97 62.46 L625.70 63.36 L623.44 64.36 L621.22 65.41 L618.90 66.52 L616.46 67.77 L613.87 69.21 L611.11 70.89 L608.07 72.91 L604.75 75.22 L601.36 77.68 L598.07 80.15 L595.09 82.49 L592.50 84.63 L590.17 86.67 L587.97 88.69 L585.80 90.79 L583.51 93.04 L581.11 95.43 L578.67 97.92 L576.19 100.53 L573.68 103.28 L571.16 106.20 L568.62 109.17 L566.06 112.21 L563.46 115.46 L560.79 119.06 L558.06 123.16 L555.11 128.01 L551.94 133.54 L548.80 139.30 L545.93 144.87 L543.58 149.82 L541.84 153.98 L540.55 157.63 L539.57 161.02 L538.78 164.37 L538.01 167.94 L537.29 171.75 L536.72 175.62 L536.26 179.56 L535.86 183.56 L535.46 187.66 L535.12 191.94 L534.85 196.37 L534.61 200.83 L534.34 205.24 L533.99 209.50 L533.55 213.64 L533.05 217.72 L532.51 221.73 L531.93 225.66 L531.30 229.51 L530.62 233.30 L529.88 237.04 L529.11 240.69 L528.32 244.21 L527.56 247.55 L526.83 250.58 L526.15 253.34 L525.44 256.01 L524.67 258.76 L523.79 261.80 L522.82 265.08 L521.80 268.48 L520.68 272.04 L519.44 275.80 L518.03 279.83 L516.44 284.18 L514.70 288.82 L512.83 293.66 L510.83 298.60 L508.71 303.54 L506.45 308.57 L504.05 313.73 L501.53 318.93 L498.94 324.09 L496.32 329.12 L493.64 334.06 L490.87 338.95 L488.05 343.77 L485.23 348.45 L482.44 352.95 L479.69 357.26 L476.95 361.40 L474.22 365.41 L471.50 369.28 L468.81 373.03 L466.21 376.58 L463.69 379.93 L461.17 383.17 L458.54 386.43 L455.74 389.81 L452.75 393.32 L449.64 396.89 L446.41 400.49 L443.04 404.11 L439.52 407.72 L435.65 411.49 L431.44 415.45 L427.18 419.34 L423.16 422.92 L419.67 425.97 L416.89 428.32 L414.63 430.14 L412.64 431.63 L410.63 433.04 L408.33 434.58 L405.82 436.20 L403.28 437.76 L400.61 439.32 L397.73 440.91 L394.55 442.60 L391.05 444.39 L387.30 446.23 L383.31 448.13 L379.11 450.09 L374.70 452.09 L369.94 454.22 L364.82 456.48 L359.57 458.74 L354.44 460.88 L349.67 462.75 L345.12 464.37 L340.62 465.84 L336.36 467.13 L332.52 468.24 L329.31 469.15 L326.99 469.79 L325.43 470.15 L324.26 470.36 L323.08 470.53 L321.55 470.78 L319.72 471.09 L317.84 471.39 L315.87 471.68 L313.84 471.95 L311.71 472.19 L309.66 472.43 L307.73 472.65 L305.67 472.84 L303.18 472.98 L299.99 473.05 L295.68 473.02 L290.44 472.93 L284.88 472.78 L279.60 472.59 L275.20 472.39 L271.84 472.16 L269.11 471.89 L266.78 471.59 L264.60 471.29 L262.37 470.98 L260.21 470.70 L258.26 470.42 L256.38 470.12 L254.45 469.80 L252.35 469.44 L250.24 469.08 L248.23 468.74 L246.07 468.35 L243.50 467.82 L240.25 467.07 L235.97 466.01 L230.85 464.70 L225.38 463.26 L220.08 461.81 L215.44 460.49 L211.31 459.19 L207.34 457.85 L203.75 456.57 L200.75 455.48 L198.57 454.70 Z" />
<path d="M162.18 458.32 L163.74 459.02 L165.88 459.98 L168.45 461.14 L171.29 462.41 L174.24 463.74 L177.43 465.19 L180.98 466.81 L184.68 468.49 L188.32 470.14 L191.68 471.63 L194.80 473.00 L197.81 474.29 L200.67 475.50 L203.33 476.61 L205.72 477.60 L207.51 478.35 L208.76 478.89 L210.01 479.41 L211.75 480.05 L214.45 480.96 L218.48 482.30 L223.51 483.95 L229.03 485.72 L234.52 487.40 L239.49 488.81 L243.82 489.91 L247.85 490.82 L251.72 491.60 L255.54 492.29 L259.46 492.95 L263.49 493.58 L267.54 494.15 L271.60 494.65 L275.66 495.09 L279.72 495.49 L283.86 495.82 L288.09 496.10 L292.27 496.33 L296.29 496.50 L300.02 496.64 L303.42 496.73 L306.57 496.77 L309.54 496.77 L312.40 496.73 L315.23 496.68 L318.00 496.59 L320.68 496.48 L323.28 496.34 L325.83 496.17 L328.35 495.98 L330.86 495.76 L333.35 495.50 L335.78 495.23 L338.14 494.93 L340.39 494.63 L342.25 494.39 L343.80 494.20 L345.45 493.96 L347.55 493.56 L350.49 492.92 L354.51 492.01 L359.36 490.89 L364.70 489.59 L370.17 488.16 L375.43 486.62 L380.52 484.93 L385.69 483.08 L390.82 481.13 L395.78 479.14 L400.45 477.18 L404.73 475.29 L408.69 473.44 L412.50 471.55 L416.35 469.53 L420.42 467.31 L424.80 464.81 L429.39 462.10 L434.02 459.27 L438.56 456.41 L442.84 453.62 L446.79 450.93 L450.51 448.30 L454.12 445.65 L457.73 442.89 L461.45 439.95 L465.30 436.83 L469.20 433.57 L473.14 430.19 L477.09 426.66 L481.06 422.99 L485.21 418.95 L489.56 414.56 L493.83 410.15 L497.72 406.05 L500.97 402.61 L503.25 400.17 L504.77 398.50 L506.01 397.06 L507.39 395.34 L509.40 392.81 L512.22 389.24 L515.55 384.98 L519.12 380.36 L522.65 375.67 L525.89 371.23 L528.80 367.06 L531.56 362.96 L534.20 358.91 L536.75 354.86 L539.25 350.81 L541.66 346.84 L543.95 342.95 L546.20 339.02 L548.45 334.90 L550.77 330.48 L553.23 325.61 L555.78 320.40 L558.33 315.03 L560.78 309.68 L563.03 304.53 L565.09 299.54 L567.01 294.58 L568.80 289.74 L570.44 285.11 L571.93 280.76 L573.25 276.73 L574.40 272.95 L575.41 269.39 L576.33 266.00 L577.20 262.74 L577.99 259.71 L578.67 256.95 L579.29 254.27 L579.89 251.50 L580.50 248.45 L581.15 245.10 L581.80 241.55 L582.43 237.86 L583.04 234.07 L583.58 230.22 L584.08 226.32 L584.52 222.33 L584.93 218.26 L585.30 214.12 L585.63 209.90 L585.91 205.58 L586.13 201.18 L586.32 196.71 L586.51 192.22 L586.71 187.71 L586.88 183.19 L586.98 178.68 L587.12 174.16 L587.39 169.60 L587.90 164.96 L588.68 160.09 L589.66 154.98 L590.79 149.88 L592.03 144.97 L593.33 140.48 L594.72 136.43 L596.24 132.65 L597.84 129.11 L599.46 125.80 L601.05 122.69 L602.54 119.87 L603.97 117.37 L605.42 115.06 L606.97 112.85 L608.68 110.63 L610.63 108.32 L612.78 105.99 L615.01 103.75 L617.23 101.71 L619.30 99.98 L621.27 98.60 L623.24 97.45 L625.17 96.50 L626.99 95.70 L628.59 95.00 L629.95 94.47 L631.14 94.12 L632.19 93.89 L633.08 93.72 L633.77 93.57 L633.23 91.03 L632.58 91.16 L631.67 91.33 L630.49 91.58 L629.10 91.98 L627.59 92.56 L625.93 93.27 L624.05 94.09 L621.99 95.10 L619.83 96.34 L617.66 97.86 L615.45 99.69 L613.14 101.81 L610.83 104.11 L608.60 106.52 L606.56 108.91 L604.76 111.23 L603.14 113.54 L601.62 115.95 L600.13 118.54 L598.59 121.41 L596.98 124.56 L595.32 127.93 L593.67 131.55 L592.10 135.45 L590.65 139.64 L589.31 144.23 L588.04 149.22 L586.88 154.41 L585.88 159.59 L585.08 164.58 L584.55 169.35 L584.26 174.02 L584.11 178.60 L584.00 183.11 L583.83 187.59 L583.61 192.09 L583.41 196.59 L583.22 201.04 L582.99 205.41 L582.71 209.68 L582.37 213.87 L582.00 217.98 L581.58 222.01 L581.13 225.96 L580.64 229.82 L580.09 233.62 L579.48 237.37 L578.84 241.02 L578.19 244.54 L577.54 247.87 L576.92 250.88 L576.33 253.61 L575.71 256.24 L575.03 258.96 L574.24 261.96 L573.37 265.20 L572.45 268.56 L571.44 272.07 L570.30 275.79 L568.99 279.78 L567.51 284.09 L565.88 288.68 L564.10 293.48 L562.20 298.38 L560.17 303.31 L557.94 308.40 L555.50 313.71 L552.97 319.04 L550.43 324.22 L547.99 329.04 L545.69 333.42 L543.46 337.49 L541.24 341.37 L538.96 345.22 L536.57 349.17 L534.08 353.19 L531.54 357.20 L528.92 361.22 L526.19 365.27 L523.31 369.39 L520.11 373.78 L516.60 378.43 L513.04 383.04 L509.72 387.27 L506.90 390.83 L504.90 393.35 L503.55 395.02 L502.39 396.38 L500.91 398.00 L498.63 400.41 L495.40 403.84 L491.51 407.92 L487.26 412.30 L482.94 416.65 L478.82 420.63 L474.90 424.25 L470.98 427.73 L467.08 431.07 L463.21 434.28 L459.39 437.37 L455.70 440.27 L452.13 442.99 L448.57 445.60 L444.89 448.18 L440.98 450.82 L436.74 453.58 L432.25 456.41 L427.65 459.21 L423.11 461.88 L418.76 464.33 L414.74 466.52 L410.95 468.49 L407.20 470.34 L403.31 472.14 L399.09 473.98 L394.46 475.91 L389.55 477.86 L384.48 479.78 L379.38 481.59 L374.37 483.22 L369.22 484.72 L363.83 486.12 L358.54 487.39 L353.71 488.49 L349.71 489.38 L346.83 489.99 L344.85 490.35 L343.32 490.56 L341.81 490.73 L339.91 490.97 L337.67 491.26 L335.35 491.54 L332.96 491.81 L330.52 492.05 L328.05 492.26 L325.57 492.45 L323.06 492.61 L320.50 492.74 L317.87 492.85 L315.13 492.92 L312.35 492.97 L309.52 493.00 L306.60 493.00 L303.50 492.95 L300.14 492.86 L296.44 492.72 L292.46 492.54 L288.32 492.31 L284.15 492.03 L280.06 491.69 L276.05 491.30 L272.04 490.86 L268.04 490.36 L264.05 489.79 L260.08 489.17 L256.21 488.51 L252.44 487.82 L248.66 487.05 L244.72 486.16 L240.49 485.09 L235.62 483.70 L230.19 482.02 L224.71 480.26 L219.70 478.61 L215.69 477.28 L213.04 476.37 L211.42 475.77 L210.29 475.30 L209.05 474.75 L207.24 473.98 L204.84 472.99 L202.20 471.88 L199.36 470.67 L196.37 469.38 L193.28 468.03 L189.94 466.53 L186.32 464.89 L182.63 463.20 L179.08 461.58 L175.88 460.12 L172.93 458.79 L170.09 457.50 L167.52 456.34 L165.37 455.38 L163.82 454.68 Z" />
<path d="M633.81 120.89 L633.47 123.09 L632.99 126.21 L632.43 129.81 L631.85 133.45 L631.31 136.68 L630.84 139.33 L630.40 141.71 L629.95 144.06 L629.44 146.62 L628.84 149.63 L628.10 153.21 L627.27 157.20 L626.39 161.43 L625.49 165.70 L624.62 169.85 L623.77 173.87 L622.92 177.87 L622.07 181.87 L621.23 185.87 L620.41 189.88 L619.62 193.81 L618.85 197.67 L618.09 201.57 L617.32 205.62 L616.51 209.94 L615.62 214.76 L614.68 220.00 L613.74 225.32 L612.85 230.37 L612.07 234.79 L611.48 238.13 L611.05 240.62 L610.65 242.95 L610.17 245.81 L609.49 249.88 L608.55 255.47 L607.44 262.13 L606.24 269.39 L605.02 276.80 L603.88 283.90 L602.80 290.73 L601.72 297.58 L600.66 304.42 L599.64 311.19 L598.65 317.86 L597.72 324.19 L596.84 330.20 L595.99 336.26 L595.12 342.71 L594.21 349.92 L593.19 358.27 L592.11 367.54 L591.02 377.12 L590.01 386.42 L589.13 394.84 L588.43 401.94 L587.85 408.14 L587.36 414.07 L586.90 420.38 L586.45 427.73 L585.99 436.70 L585.53 446.84 L585.12 457.29 L584.77 467.18 L584.53 475.63 L584.41 482.71 L584.41 489.01 L584.48 494.41 L584.56 498.78 L584.60 502.02 L586.80 501.98 L586.75 498.74 L586.66 494.37 L586.59 489.00 L586.57 482.73 L586.67 475.67 L586.91 467.25 L587.24 457.37 L587.65 446.93 L588.09 436.80 L588.55 427.85 L588.99 420.52 L589.43 414.23 L589.91 408.32 L590.48 402.14 L591.17 395.04 L592.02 386.63 L593.03 377.34 L594.10 367.77 L595.17 358.51 L596.17 350.16 L597.08 342.97 L597.93 336.52 L598.77 330.47 L599.64 324.46 L600.55 318.14 L601.53 311.47 L602.54 304.70 L603.59 297.87 L604.65 291.02 L605.72 284.20 L606.86 277.10 L608.06 269.69 L609.25 262.43 L610.35 255.77 L611.27 250.18 L611.94 246.10 L612.41 243.25 L612.80 240.92 L613.22 238.43 L613.79 235.09 L614.56 230.67 L615.44 225.62 L616.37 220.30 L617.30 215.06 L618.17 210.24 L618.97 205.93 L619.73 201.88 L620.48 197.99 L621.23 194.13 L622.01 190.20 L622.82 186.20 L623.65 182.20 L624.48 178.20 L625.32 174.19 L626.16 170.17 L627.02 166.02 L627.91 161.74 L628.78 157.52 L629.60 153.52 L630.32 149.93 L630.92 146.91 L631.42 144.34 L631.86 141.98 L632.29 139.59 L632.75 136.92 L633.28 133.68 L633.84 130.03 L634.39 126.42 L634.86 123.30 L635.19 121.11 Z" />
<path d="M633.20 120.94 L633.09 123.15 L632.93 126.30 L632.74 129.93 L632.53 133.58 L632.31 136.82 L632.10 139.47 L631.89 141.83 L631.65 144.17 L631.37 146.71 L631.03 149.70 L630.60 153.26 L630.11 157.23 L629.57 161.43 L629.02 165.68 L628.47 169.81 L627.92 173.81 L627.35 177.81 L626.78 181.81 L626.21 185.81 L625.64 189.81 L625.09 193.81 L624.54 197.81 L623.99 201.81 L623.45 205.82 L622.92 209.82 L622.41 213.64 L621.94 217.27 L621.46 220.99 L620.94 225.09 L620.33 229.87 L619.60 235.66 L618.77 242.29 L617.90 249.23 L617.07 255.92 L616.32 261.85 L615.77 266.17 L615.37 269.24 L614.96 272.32 L614.41 276.68 L613.56 283.55 L612.28 293.96 L610.67 307.08 L608.93 321.37 L607.25 335.32 L605.85 347.40 L604.76 357.18 L603.85 365.67 L603.05 373.53 L602.31 381.39 L601.57 389.89 L600.81 399.27 L600.08 409.13 L599.39 419.07 L598.78 428.72 L598.28 437.69 L597.91 445.99 L597.64 453.85 L597.45 461.29 L597.33 468.32 L597.24 474.95 L597.21 481.46 L597.26 487.83 L597.35 493.65 L597.44 498.52 L597.50 502.03 L601.30 501.97 L601.23 498.45 L601.12 493.58 L601.01 487.78 L600.93 481.44 L600.94 474.97 L601.01 468.37 L601.11 461.36 L601.28 453.95 L601.53 446.12 L601.88 437.87 L602.36 428.93 L602.94 419.30 L603.61 409.38 L604.33 399.54 L605.07 390.17 L605.79 381.70 L606.50 373.87 L607.28 366.03 L608.18 357.55 L609.25 347.78 L610.63 335.72 L612.28 321.77 L614.01 307.48 L615.60 294.37 L616.86 283.95 L617.69 277.08 L618.23 272.74 L618.61 269.66 L619.00 266.58 L619.54 262.25 L620.26 256.32 L621.08 249.62 L621.93 242.68 L622.74 236.05 L623.45 230.25 L624.04 225.48 L624.54 221.38 L625.01 217.66 L625.46 214.03 L625.94 210.22 L626.46 206.21 L626.98 202.21 L627.51 198.21 L628.04 194.21 L628.58 190.21 L629.12 186.21 L629.68 182.22 L630.23 178.22 L630.78 174.21 L631.31 170.19 L631.85 166.05 L632.39 161.79 L632.91 157.58 L633.38 153.60 L633.79 150.02 L634.12 147.01 L634.38 144.44 L634.60 142.08 L634.80 139.68 L634.99 137.00 L635.19 133.74 L635.38 130.06 L635.55 126.42 L635.70 123.27 L635.80 121.06 Z" />
<path d="M653.35 257.93 L653.24 258.90 L653.12 260.03 L652.93 261.68 L652.63 264.20 L652.17 267.97 L651.51 273.18 L650.71 279.59 L649.78 286.90 L648.76 294.79 L647.68 302.95 L646.47 311.76 L645.12 321.43 L643.72 331.39 L642.35 341.07 L641.12 349.88 L640.04 357.51 L639.07 364.34 L638.14 370.86 L637.22 377.54 L636.25 384.85 L635.19 393.10 L634.07 401.96 L632.96 411.00 L631.91 419.74 L630.99 427.74 L630.21 434.66 L629.52 440.80 L628.92 446.67 L628.39 452.79 L627.94 459.67 L627.57 468.16 L627.29 477.89 L627.08 487.61 L626.92 496.06 L626.80 501.98 L628.80 502.02 L628.96 496.11 L629.19 487.66 L629.46 477.95 L629.78 468.24 L630.14 459.79 L630.51 452.93 L630.91 446.83 L631.36 440.97 L631.90 434.83 L632.59 427.92 L633.45 419.92 L634.48 411.18 L635.59 402.15 L636.72 393.29 L637.77 385.05 L638.73 377.74 L639.64 371.07 L640.56 364.56 L641.52 357.72 L642.58 350.08 L643.81 341.27 L645.16 331.59 L646.55 321.63 L647.89 311.95 L649.08 303.13 L650.16 294.97 L651.16 287.07 L652.08 279.76 L652.87 273.35 L653.51 268.13 L653.97 264.36 L654.26 261.83 L654.43 260.17 L654.55 259.04 L654.65 258.07 Z" />
<path d="M653.90 269.93 L653.72 273.36 L653.48 278.23 L653.18 283.87 L652.87 289.65 L652.57 294.92 L652.28 299.49 L652.00 303.82 L651.69 308.15 L651.36 312.75 L650.97 317.89 L650.52 323.79 L650.00 330.28 L649.46 337.02 L648.92 343.67 L648.41 349.89 L647.93 355.67 L647.46 361.23 L647.00 366.60 L646.55 371.80 L646.13 376.87 L645.73 381.64 L645.35 386.12 L644.99 390.51 L644.63 395.03 L644.25 399.87 L643.86 404.82 L643.47 409.73 L643.07 414.95 L642.67 420.84 L642.26 427.74 L641.82 436.26 L641.34 446.19 L640.87 456.58 L640.46 466.48 L640.17 474.94 L640.01 482.09 L639.95 488.54 L639.96 494.12 L639.99 498.66 L640.00 502.01 L643.20 501.99 L643.18 498.64 L643.15 494.10 L643.12 488.55 L643.17 482.14 L643.31 475.04 L643.60 466.60 L644.00 456.71 L644.46 446.34 L644.93 436.42 L645.36 427.90 L645.75 421.04 L646.14 415.17 L646.53 409.96 L646.91 405.06 L647.29 400.11 L647.66 395.26 L648.01 390.75 L648.36 386.37 L648.73 381.89 L649.11 377.11 L649.53 372.05 L649.97 366.85 L650.42 361.48 L650.88 355.91 L651.35 350.13 L651.85 343.90 L652.38 337.25 L652.92 330.51 L653.42 324.02 L653.87 318.11 L654.24 312.96 L654.57 308.35 L654.86 304.01 L655.14 299.67 L655.41 295.08 L655.71 289.81 L656.01 284.02 L656.29 278.37 L656.53 273.50 L656.70 270.07 Z" />
<path fill="none" stroke-width="4.8" stroke-linecap="butt" d="M655.6 233 L655.4 277" />
</g>
<g stroke-width="0.8">
<rect x="582.6" y="502" width="7.3" height="15.2" fill="#1a58e2" stroke="#0c2c90"/>
<rect x="595.2" y="501.2" width="8.8" height="38.3" fill="#0606f4" stroke="#0a0a9a"/>
<rect x="624.2" y="501.2" width="7.3" height="15.8" fill="#149c14" stroke="#0a5c0a"/>
<rect x="638.2" y="501.2" width="6.6" height="38.3" fill="#18f020" stroke="#0c7a0c"/>
</g>
</svg>
</body>
</html>
